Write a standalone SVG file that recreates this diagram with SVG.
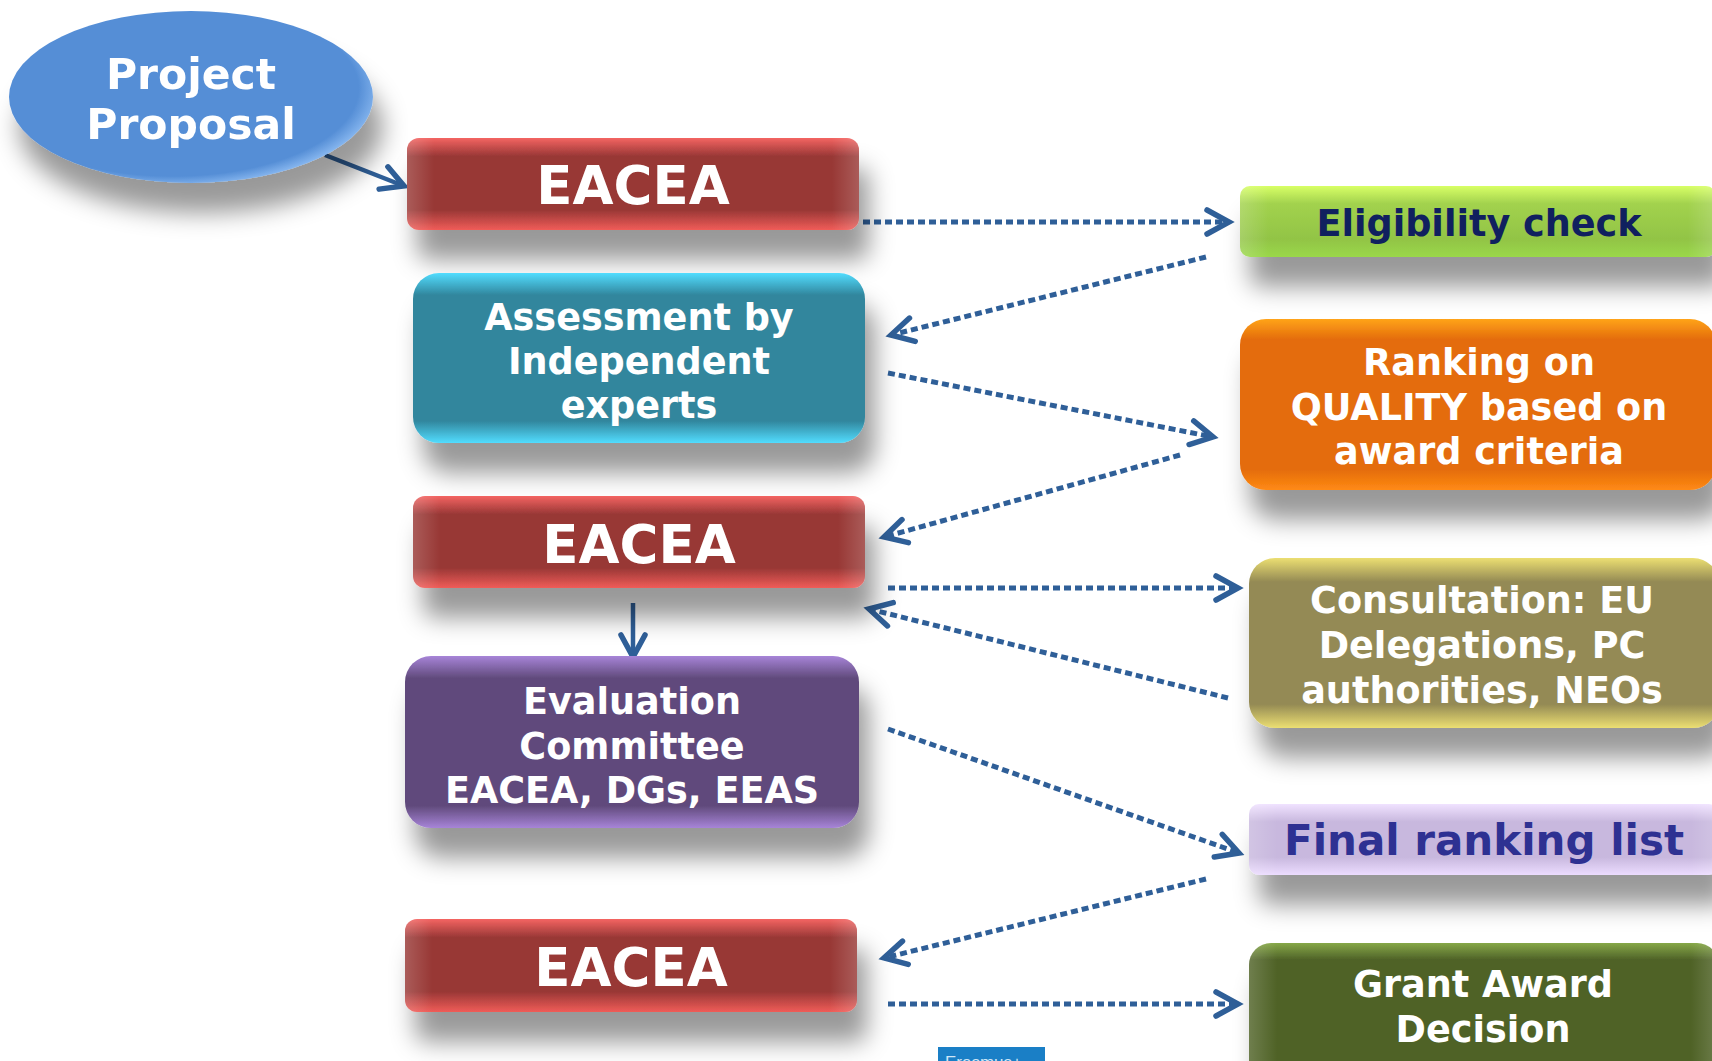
<svg xmlns="http://www.w3.org/2000/svg" width="1712" height="1061" viewBox="0 0 1712 1061">
<style>
.t{font-family:"DejaVu Sans","Verdana",sans-serif;font-weight:bold;fill:#ffffff;text-anchor:middle}
.big{font-size:53px}
.mid{font-size:36.6px}
.dot{fill:none;stroke:#2f5f98;stroke-width:5;stroke-dasharray:7 4;marker-end:url(#chev)}
.solid{fill:none;stroke:#2f5f98;stroke-width:4.5;marker-end:url(#chev)}
</style>
<defs>
<filter id="sh" x="-10%" y="-20%" width="135%" height="200%">
<feDropShadow dx="10" dy="30" stdDeviation="12" flood-color="#000" flood-opacity="0.4"/>
</filter>
<marker id="chev" markerUnits="userSpaceOnUse" markerWidth="34" markerHeight="34" viewBox="-28 -17 34 34" refX="0" refY="0" orient="auto">
<path d="M-22,-12 L0,0 L-22,12" fill="none" stroke="#2f5f98" stroke-width="5.5" stroke-linecap="round" stroke-linejoin="miter"/>
</marker>
<linearGradient id="side" x1="0" y1="0" x2="1" y2="0">
<stop offset="0" stop-color="#fff" stop-opacity="0.18"/>
<stop offset="0.06" stop-color="#fff" stop-opacity="0"/>
<stop offset="0.94" stop-color="#fff" stop-opacity="0"/>
<stop offset="1" stop-color="#fff" stop-opacity="0.18"/>
</linearGradient>
<linearGradient id="gRed" x1="0" y1="0" x2="0" y2="1">
<stop offset="0" stop-color="#f46462"/><stop offset="0.2" stop-color="#983735"/><stop offset="0.78" stop-color="#983735"/><stop offset="1" stop-color="#f05c58"/>
</linearGradient>
<linearGradient id="gTeal" x1="0" y1="0" x2="0" y2="1">
<stop offset="0" stop-color="#52ddff"/><stop offset="0.13" stop-color="#31869d"/><stop offset="0.87" stop-color="#31869d"/><stop offset="1" stop-color="#52ddff"/>
</linearGradient>
<linearGradient id="gPurp" x1="0" y1="0" x2="0" y2="1">
<stop offset="0" stop-color="#a784d8"/><stop offset="0.13" stop-color="#604a7b"/><stop offset="0.87" stop-color="#604a7b"/><stop offset="1" stop-color="#a784d8"/>
</linearGradient>
<linearGradient id="gLime" x1="0" y1="0" x2="0" y2="1">
<stop offset="0" stop-color="#d8ff66"/><stop offset="0.25" stop-color="#a2d24e"/><stop offset="0.75" stop-color="#92c445"/><stop offset="1" stop-color="#9ad84a"/>
</linearGradient>
<linearGradient id="gOrng" x1="0" y1="0" x2="0" y2="1">
<stop offset="0" stop-color="#ffa41a"/><stop offset="0.12" stop-color="#e46c0a"/><stop offset="0.88" stop-color="#e46c0a"/><stop offset="1" stop-color="#ff8a14"/>
</linearGradient>
<linearGradient id="gOlive" x1="0" y1="0" x2="0" y2="1">
<stop offset="0" stop-color="#ecdf72"/><stop offset="0.14" stop-color="#948a54"/><stop offset="0.86" stop-color="#948a54"/><stop offset="1" stop-color="#ecdf72"/>
</linearGradient>
<linearGradient id="gLav" x1="0" y1="0" x2="0" y2="1">
<stop offset="0" stop-color="#f0e2ff"/><stop offset="0.25" stop-color="#c8b8de"/><stop offset="0.75" stop-color="#c8b8de"/><stop offset="1" stop-color="#ecdcff"/>
</linearGradient>
<linearGradient id="gGrn" x1="0" y1="0" x2="0" y2="1">
<stop offset="0" stop-color="#86a848"/><stop offset="0.12" stop-color="#4f6228"/><stop offset="0.88" stop-color="#4f6228"/><stop offset="1" stop-color="#6f8c38"/>
</linearGradient>
<radialGradient id="gEll" cx="0.45" cy="0.45" r="0.6">
<stop offset="0.85" stop-color="#558ed6"/><stop offset="0.95" stop-color="#86b6ef"/><stop offset="1" stop-color="#5a92d8"/>
</radialGradient>
</defs>
<rect width="1712" height="1061" fill="#ffffff"/>

<g id="connectors">
<path class="solid" d="M325,155 L404,186"/>
<path class="solid" d="M633,603 L633,657"/>
<path class="dot" d="M863,222 L1229,222"/>
<path class="dot" d="M1206,257 L891,335"/>
<path class="dot" d="M888,373 L1213,437"/>
<path class="dot" d="M1180,455 L884,537"/>
<path class="dot" d="M888,588 L1238,588"/>
<path class="dot" d="M1228,698 L869,609"/>
<path class="dot" d="M888,729 L1239,853"/>
<path class="dot" d="M1206,879 L884,958"/>
<path class="dot" d="M888,1004 L1238,1004"/>
</g>

<g id="proposal" filter="url(#sh)">
<ellipse cx="191" cy="97" rx="182" ry="86" fill="url(#gEll)"/>
<text class="t" x="191" y="89" font-size="42.5">Project</text>
<text class="t" x="191" y="139" font-size="42.5">Proposal</text>
</g>

<g id="eacea1">
<rect x="407" y="138" width="452" height="92" rx="12" fill="url(#gRed)" filter="url(#sh)"/>
<rect x="407" y="138" width="452" height="92" rx="12" fill="url(#side)"/>
<text class="t big" x="633" y="204">EACEA</text>
</g>

<g id="assessment">
<rect x="413" y="273" width="452" height="170" rx="26" fill="url(#gTeal)" filter="url(#sh)"/>
<text class="t mid" x="639" y="330">Assessment by</text>
<text class="t mid" x="639" y="374">Independent</text>
<text class="t mid" x="639" y="418">experts</text>
</g>

<g id="eacea2">
<rect x="413" y="496" width="452" height="92" rx="12" fill="url(#gRed)" filter="url(#sh)"/>
<rect x="413" y="496" width="452" height="92" rx="12" fill="url(#side)"/>
<text class="t big" x="639" y="563">EACEA</text>
</g>

<g id="evaluation">
<rect x="405" y="656" width="454" height="172" rx="26" fill="url(#gPurp)" filter="url(#sh)"/>
<text class="t mid" x="632" y="714">Evaluation</text>
<text class="t mid" x="632" y="759">Committee</text>
<text class="t mid" x="632" y="803">EACEA, DGs, EEAS</text>
</g>

<g id="eacea3">
<rect x="405" y="919" width="452" height="93" rx="12" fill="url(#gRed)" filter="url(#sh)"/>
<rect x="405" y="919" width="452" height="93" rx="12" fill="url(#side)"/>
<text class="t big" x="631" y="986">EACEA</text>
</g>

<g id="eligibility">
<rect x="1240" y="186" width="476" height="71" rx="10" fill="url(#gLime)" filter="url(#sh)"/>
<rect x="1240" y="186" width="476" height="71" rx="10" fill="url(#side)"/>
<text class="t mid" x="1479" y="236" style="fill:#10205f">Eligibility check</text>
</g>

<g id="ranking">
<rect x="1240" y="319" width="476" height="171" rx="26" fill="url(#gOrng)" filter="url(#sh)"/>
<text class="t mid" x="1479" y="375">Ranking on</text>
<text class="t mid" x="1479" y="420">QUALITY based on</text>
<text class="t mid" x="1479" y="464">award criteria</text>
</g>

<g id="consultation">
<rect x="1249" y="558" width="470" height="170" rx="26" fill="url(#gOlive)" filter="url(#sh)"/>
<text class="t mid" x="1482" y="613">Consultation: EU</text>
<text class="t mid" x="1482" y="658">Delegations, PC</text>
<text class="t mid" x="1482" y="703">authorities, NEOs</text>
</g>

<g id="final">
<rect x="1249" y="804" width="470" height="71" rx="10" fill="url(#gLav)" filter="url(#sh)"/>
<rect x="1249" y="804" width="470" height="71" rx="10" fill="url(#side)"/>
<text class="t" x="1484" y="855" font-size="42" style="fill:#2e3192">Final ranking list</text>
</g>

<g id="grant">
<rect x="1249" y="943" width="470" height="140" rx="22" fill="url(#gGrn)" filter="url(#sh)"/>
<rect x="1249" y="943" width="470" height="140" rx="22" fill="url(#side)"/>
<text class="t mid" x="1483" y="997">Grant Award</text>
<text class="t mid" x="1483" y="1042">Decision</text>
</g>

<g id="logo">
<rect x="938" y="1047" width="107" height="16" fill="#1a7fc6"/>
<text x="945" y="1068" font-family="Liberation Sans, sans-serif" font-size="17" fill="#cfe6f7">Erasmus+</text>
</g>
</svg>
